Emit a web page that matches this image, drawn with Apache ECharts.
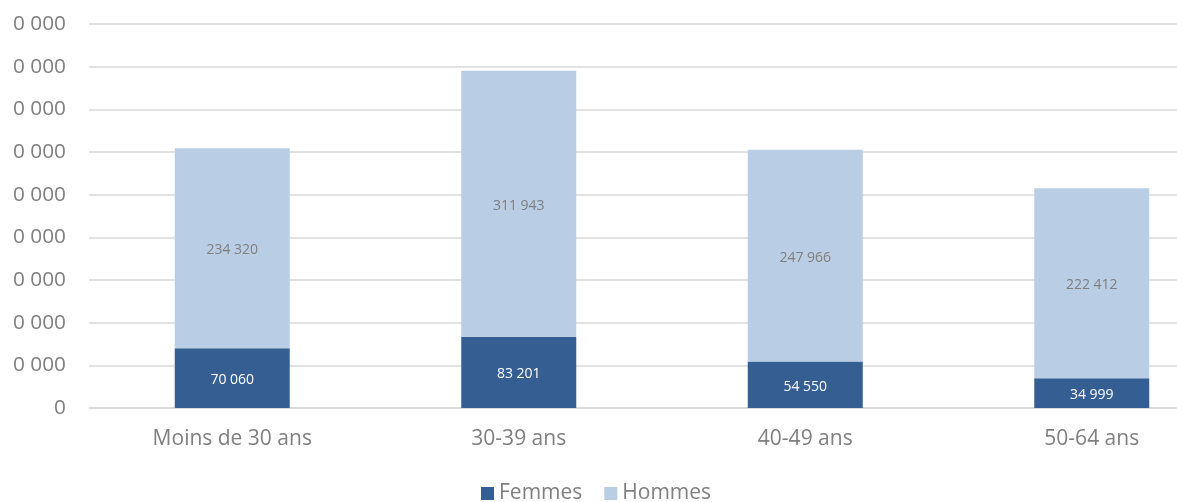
<!DOCTYPE html>
<html>
<head>
<meta charset="utf-8">
<script src="https://cdn.jsdelivr.net/npm/echarts@6/dist/echarts.min.js"></script>
<style>
html,body{margin:0;padding:0;background:#fff;}
#chart{width:1177px;height:502px;}
</style>
</head>
<body>
<div id="chart"></div>
<script>
const categories = ["Moins de 30 ans", "30-39 ans", "40-49 ans", "50-64 ans"];
const femmes = [70060, 83201, 54550, 34999];
const hommes = [234320, 311943, 247966, 222412];
const seriesNames = ["Femmes", "Hommes"];
const yMin = 0, yMax = 450000, yStep = 50000;

function fmt(v) {
  return String(v).replace(/\B(?=(\d{3})+(?!\d))/g, " ");
}

const FONT = "Open Sans";
const chart = echarts.init(document.getElementById("chart"), null, {renderer: "canvas"});
chart.setOption({
  animation: false,
  textStyle: {fontFamily: FONT},
  grid: {left: 89, top: 24, width: 1146, height: 384, containLabel: false, outerBoundsMode: "none"},
  graphic: [{
    type: "rect",
    left: 0, top: 0, z: 100,
    shape: {x: 0, y: 0, width: 12.5, height: 425},
    style: {fill: "#ffffff"},
    silent: true
  }],
  legend: {
    data: seriesNames,
    top: 478,
    left: 476,
    itemWidth: 13,
    itemHeight: 13,
    itemGap: 22,
    icon: "rect",
    textStyle: {fontFamily: FONT, fontSize: 21, color: "#7f7f7f"}
  },
  xAxis: {
    type: "category",
    data: categories,
    axisLine: {show: true, lineStyle: {color: "#d9d9d9", width: 1.5}},
    axisTick: {show: false},
    axisLabel: {fontFamily: FONT, fontSize: 21, color: "#7f7f7f", margin: 21}
  },
  yAxis: {
    type: "value",
    min: yMin,
    max: yMax,
    interval: yStep,
    axisLine: {show: false},
    axisTick: {show: false},
    splitLine: {lineStyle: {color: "#d9d9d9", width: 1.5}},
    axisLabel: {fontFamily: FONT, fontSize: 20.8, color: "#7f7f7f", margin: 23, formatter: v => fmt(v)}
  },
  series: [
    {
      name: seriesNames[0],
      type: "bar",
      stack: "total",
      data: femmes,
      barWidth: 115,
      itemStyle: {color: "#355F93"},
      label: {show: true, position: "inside", offset: [0, 2], color: "#ffffff", fontFamily: FONT, fontSize: 14, formatter: p => fmt(p.value)}
    },
    {
      name: seriesNames[1],
      type: "bar",
      stack: "total",
      data: hommes,
      barWidth: 115,
      itemStyle: {color: "#B9CDE4"},
      label: {show: true, position: "inside", offset: [0, 2], color: "#7f7f7f", fontFamily: FONT, fontSize: 14, formatter: p => fmt(p.value)}
    }
  ]
});
</script>
</body>
</html>
